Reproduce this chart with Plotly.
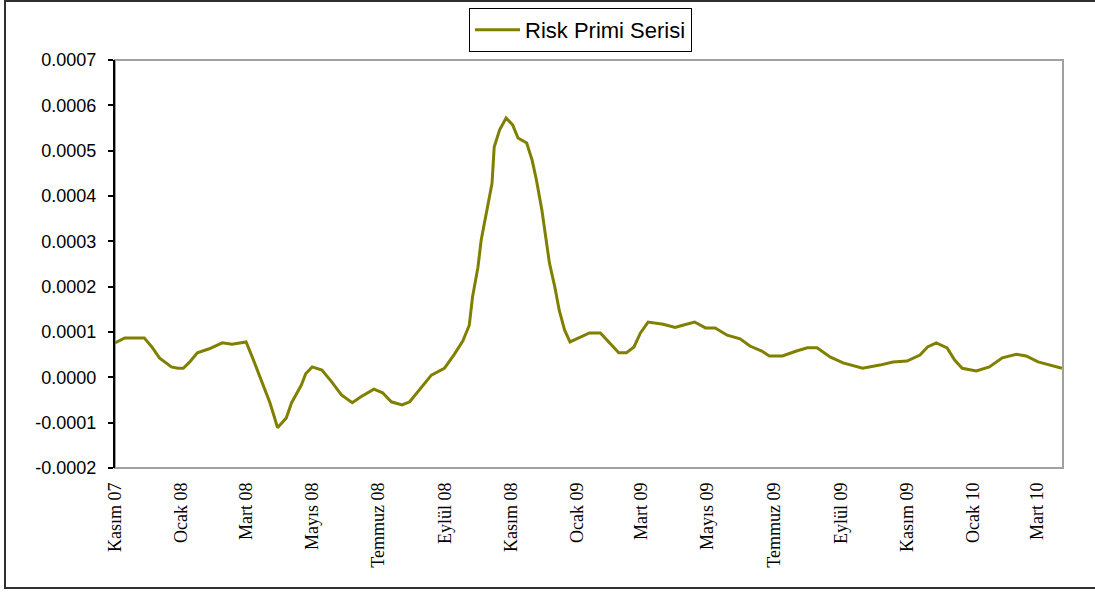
import plotly.graph_objects as go

# Risk primi serisi: sampled dates and values
dates = [
    "2007-11-01", "2007-11-10", "2007-11-28", "2007-12-05", "2007-12-12", "2007-12-23",
    "2007-12-29", "2008-01-03", "2008-01-09", "2008-01-16", "2008-01-27", "2008-02-08",
    "2008-02-17", "2008-03-01", "2008-03-07", "2008-03-15", "2008-03-23", "2008-03-27",
    "2008-03-30", "2008-04-07", "2008-04-12", "2008-04-21", "2008-04-25", "2008-05-01",
    "2008-05-10", "2008-05-19", "2008-05-28", "2008-06-07", "2008-06-15", "2008-06-27",
    "2008-07-05", "2008-07-13", "2008-07-23", "2008-07-30", "2008-08-08", "2008-08-19",
    "2008-08-31", "2008-09-09", "2008-09-17", "2008-09-23", "2008-09-26", "2008-10-01",
    "2008-10-04", "2008-10-09", "2008-10-14", "2008-10-16", "2008-10-21", "2008-10-27",
    "2008-11-02", "2008-11-07", "2008-11-15", "2008-11-20", "2008-11-24", "2008-11-29",
    "2008-12-03", "2008-12-06", "2008-12-11", "2008-12-15", "2008-12-20", "2008-12-25",
    "2008-12-31", "2009-01-12", "2009-01-22", "2009-01-30", "2009-02-08", "2009-02-15",
    "2009-02-22", "2009-02-28", "2009-03-07", "2009-03-21", "2009-04-01", "2009-04-08",
    "2009-04-19", "2009-04-29", "2009-05-08", "2009-05-19", "2009-05-31", "2009-06-09",
    "2009-06-20", "2009-06-27", "2009-07-09", "2009-07-22", "2009-08-01", "2009-08-10",
    "2009-08-22", "2009-09-03", "2009-09-21", "2009-10-07", "2009-10-19", "2009-11-01",
    "2009-11-13", "2009-11-20", "2009-11-28", "2009-12-08", "2009-12-15", "2009-12-22",
    "2010-01-04", "2010-01-16", "2010-01-28", "2010-02-10", "2010-02-19", "2010-03-02",
    "2010-03-13", "2010-03-24",
]
risk_primi = [
    0.000076, 0.000087, 0.000087, 0.000067, 0.000043, 0.000023,
    0.000020, 0.000020, 0.000034, 0.000054, 0.000063, 0.000076,
    0.000073, 0.000078, 0.000043, -0.000006, -0.000056, -0.000087,
    -0.000111, -0.000090, -0.000056, -0.000017, 0.000008, 0.000023,
    0.000016, -0.000010, -0.000039, -0.000056, -0.000043, -0.000026,
    -0.000034, -0.000054, -0.000061, -0.000054, -0.000028, 0.000005,
    0.000020, 0.000050, 0.000080, 0.000115, 0.000177, 0.000243,
    0.000303, 0.000369, 0.000428, 0.000508, 0.000546, 0.000572,
    0.000557, 0.000528, 0.000517, 0.000479, 0.000435, 0.000369,
    0.000303, 0.000252, 0.000199, 0.000148, 0.000104, 0.000078,
    0.000085, 0.000098, 0.000098, 0.000078, 0.000054, 0.000054,
    0.000067, 0.000098, 0.000122, 0.000117, 0.000110, 0.000115,
    0.000122, 0.000109, 0.000109, 0.000093, 0.000085, 0.000069,
    0.000058, 0.000047, 0.000047, 0.000058, 0.000065, 0.000065,
    0.000045, 0.000032, 0.000020, 0.000027, 0.000034, 0.000036,
    0.000049, 0.000067, 0.000076, 0.000065, 0.000038, 0.000020,
    0.000014, 0.000023, 0.000043, 0.000051, 0.000047, 0.000034,
    0.000027, 0.000020,
]

# Month ticks (every two months)
tick_dates = [
    "2007-11-01", "2008-01-01", "2008-03-01", "2008-05-01", "2008-07-01",
    "2008-09-01", "2008-11-01", "2009-01-01", "2009-03-01", "2009-05-01",
    "2009-07-01", "2009-09-01", "2009-11-01", "2010-01-01", "2010-03-01",
]
tick_labels = [
    "Kasım 07", "Ocak 08", "Mart 08", "Mayıs 08", "Temmuz 08",
    "Eylül 08", "Kasım 08", "Ocak 09", "Mart 09", "Mayıs 09",
    "Temmuz 09", "Eylül 09", "Kasım 09", "Ocak 10", "Mart 10",
]

# Value axis ticks
y_ticks = [-0.0002, -0.0001, 0.0, 0.0001, 0.0002, 0.0003, 0.0004, 0.0005, 0.0006, 0.0007]
y_labels = ["-0.0002", "-0.0001", "0.0000", "0.0001", "0.0002",
            "0.0003", "0.0004", "0.0005", "0.0006", "0.0007"]

W, H = 1095, 592
L, R, T, B = 115, 32, 60, 124
pw, ph = W - L - R, H - T - B


def px_x(x):
    return (x - L) / pw


def px_y(y):
    return (H - B - y) / ph


fig = go.Figure()
fig.add_trace(go.Scatter(
    x=dates, y=risk_primi, mode="lines", name="Risk Primi Serisi",
    line=dict(color="#808000", width=3),
))

fig.update_layout(
    width=W, height=H,
    margin=dict(l=L, r=R, t=T, b=B, autoexpand=False),
    paper_bgcolor="white", plot_bgcolor="white",
    font=dict(family="Liberation Sans, Arial", color="black"),
    showlegend=True,
    legend=dict(
        x=px_x(469), y=px_y(8), xanchor="left", yanchor="top",
        bordercolor="black", borderwidth=1, bgcolor="white",
        font=dict(family="Liberation Sans, Arial", size=22),
        itemwidth=45,
    ),
    xaxis=dict(
        type="date",
        range=["2007-11-01", "2010-03-25"],
        tickvals=tick_dates, ticktext=tick_labels,
        tickangle=-90,
        tickfont=dict(family="Liberation Serif, Times New Roman", size=18),
        showgrid=False, zeroline=False, showline=False, ticks="",
        ticklabelstandoff=10,
    ),
    yaxis=dict(
        range=[-0.0002, 0.0007],
        tickvals=y_ticks, ticktext=y_labels,
        tickfont=dict(family="Liberation Sans, Arial", size=18),
        showgrid=False, zeroline=False,
        showline=True, linecolor="black", linewidth=2,
        ticks="outside", ticklen=5, tickwidth=1.5, tickcolor="black",
        ticklabelstandoff=8,
    ),
    shapes=[
        # plot-area border
        dict(type="rect", xref="paper", yref="paper", x0=0, y0=0, x1=1, y1=1,
             line=dict(color="#a0a0a0", width=2), layer="below"),
        # outer chart frame
        dict(type="rect", xref="paper", yref="paper",
             x0=px_x(5), y0=px_y(588), x1=px_x(1100), y1=px_y(1),
             line=dict(color="#303030", width=2), layer="below"),
    ],
)

fig.write_html("out.html")
